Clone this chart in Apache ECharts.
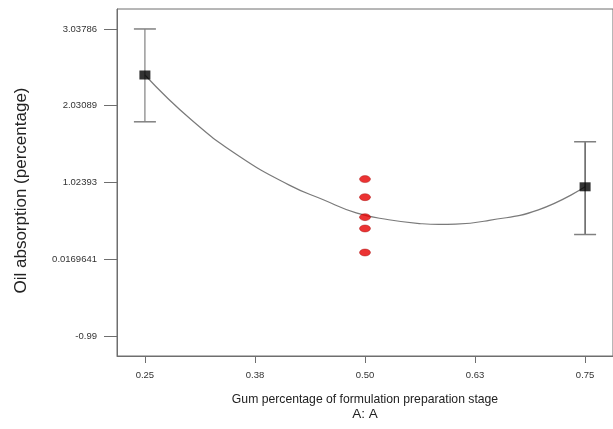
<!DOCTYPE html>
<html>
<head>
<meta charset="utf-8">
<script src="https://cdn.jsdelivr.net/npm/echarts@6/dist/echarts.min.js"></script>
<style>
  html, body { margin: 0; padding: 0; background: #fff; }
  #chart { width: 613px; height: 429px; }
</style>
</head>
<body>
<div id="chart"></div>
<script>
// tick labels
var yTickValues = [-0.99, 0.0169641, 1.02393, 2.03089, 3.03786];
var yTickLabels = ['-0.99', '0.0169641', '1.02393', '2.03089', '3.03786'];
var xTickValues = [0.25, 0.375, 0.5, 0.625, 0.75];
var xTickLabels = ['0.25', '0.38', '0.50', '0.63', '0.75'];

// model curve
var curveX = [0.25, 0.303, 0.358, 0.414, 0.452, 0.49, 0.527, 0.565, 0.584, 0.603, 0.641, 0.697, 0.75];
var curveY = [2.434, 1.843, 1.361, 0.989, 0.80, 0.625, 0.535, 0.482, 0.473, 0.477, 0.527, 0.665, 0.967];

// predicted means with error bars
var meanX = [0.25, 0.75];
var meanY = [2.434, 0.967];
var barLow = [1.820, 0.341];
var barHigh = [3.038, 1.558];

// design points at 0.50
var pointX = [0.5, 0.5, 0.5, 0.5, 0.5];
var pointY = [1.068, 0.831, 0.569, 0.420, 0.105];

var chart = echarts.init(document.getElementById('chart'));

function pairs(xs, ys) {
  return xs.map(function (x, i) { return [x, ys[i]]; });
}

var option = {
  animation: false,
  textStyle: { fontFamily: 'Liberation Sans, Arial, sans-serif' },
  grid: {
    left: 117, top: 9, right: -2, bottom: 73,
    show: true, borderColor: '#6e6e6e', borderWidth: 1
  },
  xAxis: {
    type: 'value',
    min: 0.2183, max: 0.7817,
    name: '{a|Gum percentage of formulation preparation stage}\n{b|A: A}',
    nameLocation: 'middle',
    nameGap: 37,
    nameTextStyle: {
      color: '#222',
      rich: {
        a: { fontSize: 12.2, color: '#222', lineHeight: 14 },
        b: { fontSize: 13.5, color: '#222', lineHeight: 14 }
      }
    },
    splitLine: { show: false },
    axisLine: { onZero: false, lineStyle: { color: '#6e6e6e' } },
    axisTick: { length: 7, customValues: xTickValues, lineStyle: { color: '#6e6e6e' } },
    axisLabel: {
      customValues: xTickValues,
      margin: 14, fontSize: 9.5, color: '#333',
      formatter: function (v) {
        var i = xTickValues.indexOf(v);
        return i >= 0 ? xTickLabels[i] : '';
      }
    }
  },
  yAxis: {
    type: 'value',
    min: -1.253, max: 3.300,
    name: 'Oil absorption (percentage)',
    nameLocation: 'middle',
    nameGap: 87,
    nameTextStyle: { fontSize: 17, color: '#222', padding: [0, 16, 0, 0] },
    splitLine: { show: false },
    axisLine: { show: true, onZero: false, lineStyle: { color: '#6e6e6e' } },
    axisTick: { length: 13, customValues: yTickValues, lineStyle: { color: '#6e6e6e' } },
    axisLabel: {
      customValues: yTickValues,
      margin: 20, fontSize: 9.5, color: '#333',
      formatter: function (v) {
        var i = yTickValues.indexOf(v);
        return i >= 0 ? yTickLabels[i] : '';
      }
    }
  },
  series: [
    {
      type: 'line',
      data: pairs(curveX, curveY),
      smooth: 0.5,
      showSymbol: false,
      lineStyle: { color: '#7a7a7a', width: 1.2 },
      z: 2
    },
    {
      // error bars
      type: 'custom',
      data: meanX.map(function (x, i) { return [x, barLow[i], barHigh[i]]; }),
      renderItem: function (params, api) {
        var lo = api.coord([api.value(0), api.value(1)]);
        var hi = api.coord([api.value(0), api.value(2)]);
        var half = 11;
        var style = { stroke: params.dataIndex === 0 ? '#808080' : '#333', lineWidth: 1.2 };
        return {
          type: 'group',
          children: [
            { type: 'line', shape: { x1: lo[0], y1: lo[1], x2: hi[0], y2: hi[1] }, style: style },
            { type: 'line', shape: { x1: hi[0] - half, y1: hi[1], x2: hi[0] + half, y2: hi[1] }, style: { stroke: '#808080', lineWidth: 1.5 } },
            { type: 'line', shape: { x1: lo[0] - half, y1: lo[1], x2: lo[0] + half, y2: lo[1] }, style: { stroke: '#808080', lineWidth: 1.5 } }
          ]
        };
      },
      z: 3
    },
    {
      type: 'scatter',
      data: pairs(meanX, meanY),
      symbol: 'rect',
      symbolSize: [11, 9],
      itemStyle: { color: '#000' },
      z: 4
    },
    {
      type: 'scatter',
      data: pairs(pointX, pointY),
      symbol: 'circle',
      symbolSize: [11, 7],
      itemStyle: { color: '#e60000', borderColor: '#a00000', borderWidth: 0.5 },
      z: 4
    }
  ]
};

chart.setOption(option);
</script>
</body>
</html>
